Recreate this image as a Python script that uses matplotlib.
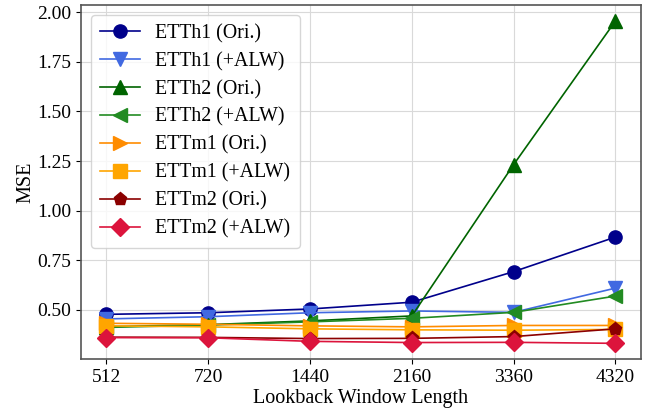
import matplotlib
matplotlib.use("Agg")
import matplotlib.pyplot as plt
import numpy as np

plt.rcParams['font.family'] = ['Liberation Serif', 'DejaVu Serif']

lookback = ['512', '720', '1440', '2160', '3360', '4320']

etth1_ori = [0.478, 0.486, 0.505, 0.539, 0.693, 0.867]
etth1_alw = [0.455, 0.466, 0.486, 0.495, 0.488, 0.610]
etth2_ori = [0.416, 0.426, 0.445, 0.470, 1.232, 1.955]
etth2_alw = [0.412, 0.424, 0.440, 0.458, 0.488, 0.570]
ettm1_ori = [0.433, 0.428, 0.420, 0.415, 0.422, 0.422]
ettm1_alw = [0.420, 0.415, 0.405, 0.400, 0.398, 0.402]
ettm2_ori = [0.363, 0.362, 0.356, 0.357, 0.366, 0.405]
ettm2_alw = [0.361, 0.360, 0.342, 0.336, 0.337, 0.332]

series = [
    ('ETTh1 (Ori.)', etth1_ori, 'darkblue', 'o'),
    ('ETTh1 (+ALW)', etth1_alw, 'royalblue', 'v'),
    ('ETTh2 (Ori.)', etth2_ori, 'darkgreen', '^'),
    ('ETTh2 (+ALW)', etth2_alw, 'forestgreen', '<'),
    ('ETTm1 (Ori.)', ettm1_ori, 'darkorange', '>'),
    ('ETTm1 (+ALW)', ettm1_alw, 'orange', 's'),
    ('ETTm2 (Ori.)', ettm2_ori, 'darkred', 'p'),
    ('ETTm2 (+ALW)', ettm2_alw, 'crimson', 'D'),
]

fig = plt.figure(figsize=(6.48, 4.08), dpi=100)
ax = fig.add_axes([0.125, 0.119, 0.864, 0.869])

x = np.arange(len(lookback))
for label, vals, color, marker in series:
    ax.plot(x, vals, color=color, marker=marker, markersize=9.5,
            linewidth=1.2, label=label)

ax.set_xticks(x)
ax.set_xticklabels(lookback)
ax.tick_params(labelsize=14)
ax.set_yticks([0.5, 0.75, 1.0, 1.25, 1.5, 1.75, 2.0])
ax.set_xlabel('Lookback Window Length', fontsize=14.5, labelpad=2)
ax.set_ylabel('MSE', fontsize=14.5, labelpad=1)
ax.grid(True, color='#d9d9d9', linewidth=0.8)
ax.set_axisbelow(True)
for s in ax.spines.values():
    s.set_color('#555555')
    s.set_linewidth(1.2)

ax.legend(loc='upper left', fontsize=14.3, labelspacing=0.44,
          borderpad=0.45, handlelength=2.0)

fig.savefig('out.png', dpi=100)
